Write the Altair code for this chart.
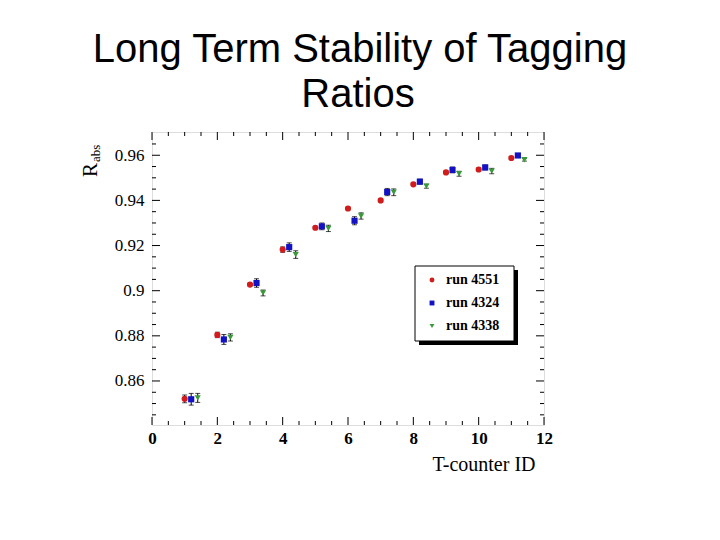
import altair as alt
import pandas as pd

# ---- data ----
counter_ids = [1, 2, 3, 4, 5, 6, 7, 8, 9, 10, 11]
series_names = ["run 4551", "run 4324", "run 4338"]
series_offsets = [0.0, 0.2, 0.4]
run4551 = [0.8521, 0.8804, 0.9027, 0.9182, 0.9279, 0.9364, 0.9400, 0.9471, 0.9524, 0.9537, 0.9588]
err4551 = [0.0017, 0.0012, 0.0006, 0.0012, 0.0006, 0.0006, 0.0006, 0.0006, 0.0006, 0.0006, 0.0006]
run4324 = [0.8519, 0.8784, 0.9034, 0.9193, 0.9285, 0.9310, 0.9437, 0.9483, 0.9535, 0.9546, 0.9599]
err4324 = [0.0026, 0.0022, 0.0019, 0.0019, 0.0015, 0.0018, 0.0016, 0.0011, 0.0013, 0.0011, 0.0007]
run4338 = [0.8525, 0.8793, 0.8990, 0.9160, 0.9276, 0.9331, 0.9436, 0.9463, 0.9518, 0.9530, 0.9580]
err4338 = [0.0020, 0.0016, 0.0013, 0.0017, 0.0014, 0.0014, 0.0015, 0.0009, 0.0011, 0.0012, 0.0006]

x_labels = [0, 2, 4, 6, 8, 10, 12]
x_minor = [0.5, 1, 1.5, 2.5, 3, 3.5, 4.5, 5, 5.5, 6.5, 7, 7.5, 8.5, 9, 9.5, 10.5, 11, 11.5]
y_labels = [0.86, 0.88, 0.90, 0.92, 0.94, 0.96]
y_minor = [0.845, 0.85, 0.855, 0.865, 0.87, 0.875, 0.885, 0.89, 0.895, 0.905, 0.91, 0.915,
           0.925, 0.93, 0.935, 0.945, 0.95, 0.955, 0.965]
title_lines = ["Long Term Stability of Tagging", "Ratios"]
x_title = "T-counter ID"
y_title_main = "R"
y_title_sub = "abs"

colors = ["#d21c1c", "#1212c4", "#3a9a3a"]
shapes = ["circle", "square", "triangle-down"]

rows = []
for name, off, vals, errs in zip(series_names, series_offsets,
                                 [run4551, run4324, run4338], [err4551, err4324, err4338]):
    for cid, v, e in zip(counter_ids, vals, errs):
        rows.append({"series": name, "x": cid + off, "value": v, "lo": v - e, "hi": v + e})
df = pd.DataFrame(rows)

W, H = 392, 293
serif = "Liberation Serif"
sans = "Liberation Sans"

xscale = alt.Scale(domain=[0, 12], nice=False, zero=False)
yscale = alt.Scale(domain=[0.8405, 0.9703], nice=False, zero=False)

xaxis = alt.Axis(values=x_labels, format="d", ticks=False, tickSize=0, domain=False, grid=False,
                 labelFlush=False, labelPadding=5, labelFont=serif, labelFontSize=17,
                 labelFontWeight="bold", labelColor="black", title=x_title, titleX=383,
                 titleY=45, titleAlign="right", titleBaseline="alphabetic", titleFont=serif,
                 titleFontSize=20, titleFontWeight="normal", titleColor="black")
yaxis = alt.Axis(values=y_labels, format=".2~f", ticks=False, tickSize=0, domain=False, grid=False,
                 labelFlush=False, labelPadding=8, labelFont=serif, labelFontSize=17,
                 labelFontWeight="normal", labelColor="black", title=None)

base = alt.Chart(df)

err_rules = base.mark_rule(color="black", strokeWidth=1).encode(
    x=alt.X("x:Q", scale=xscale, axis=xaxis),
    y=alt.Y("lo:Q", scale=yscale, axis=yaxis),
    y2="hi:Q",
)
caps_lo = base.mark_tick(orient="horizontal", color="black", thickness=1, size=5).encode(
    x="x:Q", y="lo:Q")
caps_hi = base.mark_tick(orient="horizontal", color="black", thickness=1, size=5).encode(
    x="x:Q", y="hi:Q")

points = base.mark_point(filled=True, opacity=1, size=38, strokeWidth=0).encode(
    x="x:Q",
    y="value:Q",
    color=alt.Color("series:N", scale=alt.Scale(domain=series_names, range=colors),
                    legend=alt.Legend(title=None, orient="none", legendX=273, legendY=141,
                                      padding=0, fillColor="transparent", strokeColor="transparent",
                                      symbolSize=24, labelFont=serif, labelFontSize=14,
                                      labelFontWeight="bold", labelColor="black",
                                      labelOffset=7, rowPadding=9, symbolStrokeWidth=0)),
    shape=alt.Shape("series:N", scale=alt.Scale(domain=series_names, range=shapes)),
)

# legend frame + shadow
one = pd.DataFrame({"k": [0]})
shadow = alt.Chart(one).mark_rect(fill="black").encode(
    x=alt.value(267), x2=alt.value(366), y=alt.value(138), y2=alt.value(213))
box = alt.Chart(one).mark_rect(fill="white", stroke="black", strokeWidth=1).encode(
    x=alt.value(263), x2=alt.value(362), y=alt.value(134), y2=alt.value(209))

# inward ticks on all four sides
def xticks(vals, length):
    d = pd.DataFrame({"t": vals})
    bot = alt.Chart(d).mark_rule(color="black", strokeWidth=1).encode(
        x="t:Q", y=alt.value(H), y2=alt.value(H - length))
    top = alt.Chart(d).mark_rule(color="black", strokeWidth=1).encode(
        x="t:Q", y=alt.value(0), y2=alt.value(length))
    return [bot, top]

def yticks(vals, length):
    d = pd.DataFrame({"t": vals})
    left = alt.Chart(d).mark_rule(color="black", strokeWidth=1).encode(
        y="t:Q", x=alt.value(0), x2=alt.value(length))
    right = alt.Chart(d).mark_rule(color="black", strokeWidth=1).encode(
        y="t:Q", x=alt.value(W), x2=alt.value(W - length))
    return [left, right]

tick_layers = (xticks(x_labels, 8) + xticks(x_minor, 4) +
               yticks(y_labels, 8) + yticks(y_minor, 4))

# title lines
t1 = alt.Chart(pd.DataFrame({"t": [title_lines[0]]})).mark_text(
    font=sans, fontSize=40, align="center", baseline="alphabetic", color="black").encode(
    text="t:N", x=alt.value(208), y=alt.value(-70))
t2 = alt.Chart(pd.DataFrame({"t": [title_lines[1]]})).mark_text(
    font=sans, fontSize=40, align="center", baseline="alphabetic", color="black").encode(
    text="t:N", x=alt.value(206), y=alt.value(-25))

# y axis title R_abs (rotated)
yt1 = alt.Chart(pd.DataFrame({"t": [y_title_main]})).mark_text(
    font=serif, fontSize=21, align="left", baseline="alphabetic", angle=270, color="black").encode(
    text="t:N", x=alt.value(-55), y=alt.value(45))
yt2 = alt.Chart(pd.DataFrame({"t": [y_title_sub]})).mark_text(
    font=serif, fontSize=13, align="left", baseline="alphabetic", angle=270, color="black").encode(
    text="t:N", x=alt.value(-52), y=alt.value(30))

chart = alt.layer(
    err_rules, *tick_layers, shadow, box, caps_lo, caps_hi, points, t1, t2, yt1, yt2
).resolve_scale(x="shared", y="shared").properties(
    width=W, height=H,
    autosize=alt.AutoSizeParams(type="none"),
    padding={"left": 144, "top": 124, "right": 168, "bottom": 107},
).configure_view(stroke="black", strokeWidth=1.5).configure(background="white")

chart.save("out.html", embed_options={"renderer": "svg", "actions": False})
